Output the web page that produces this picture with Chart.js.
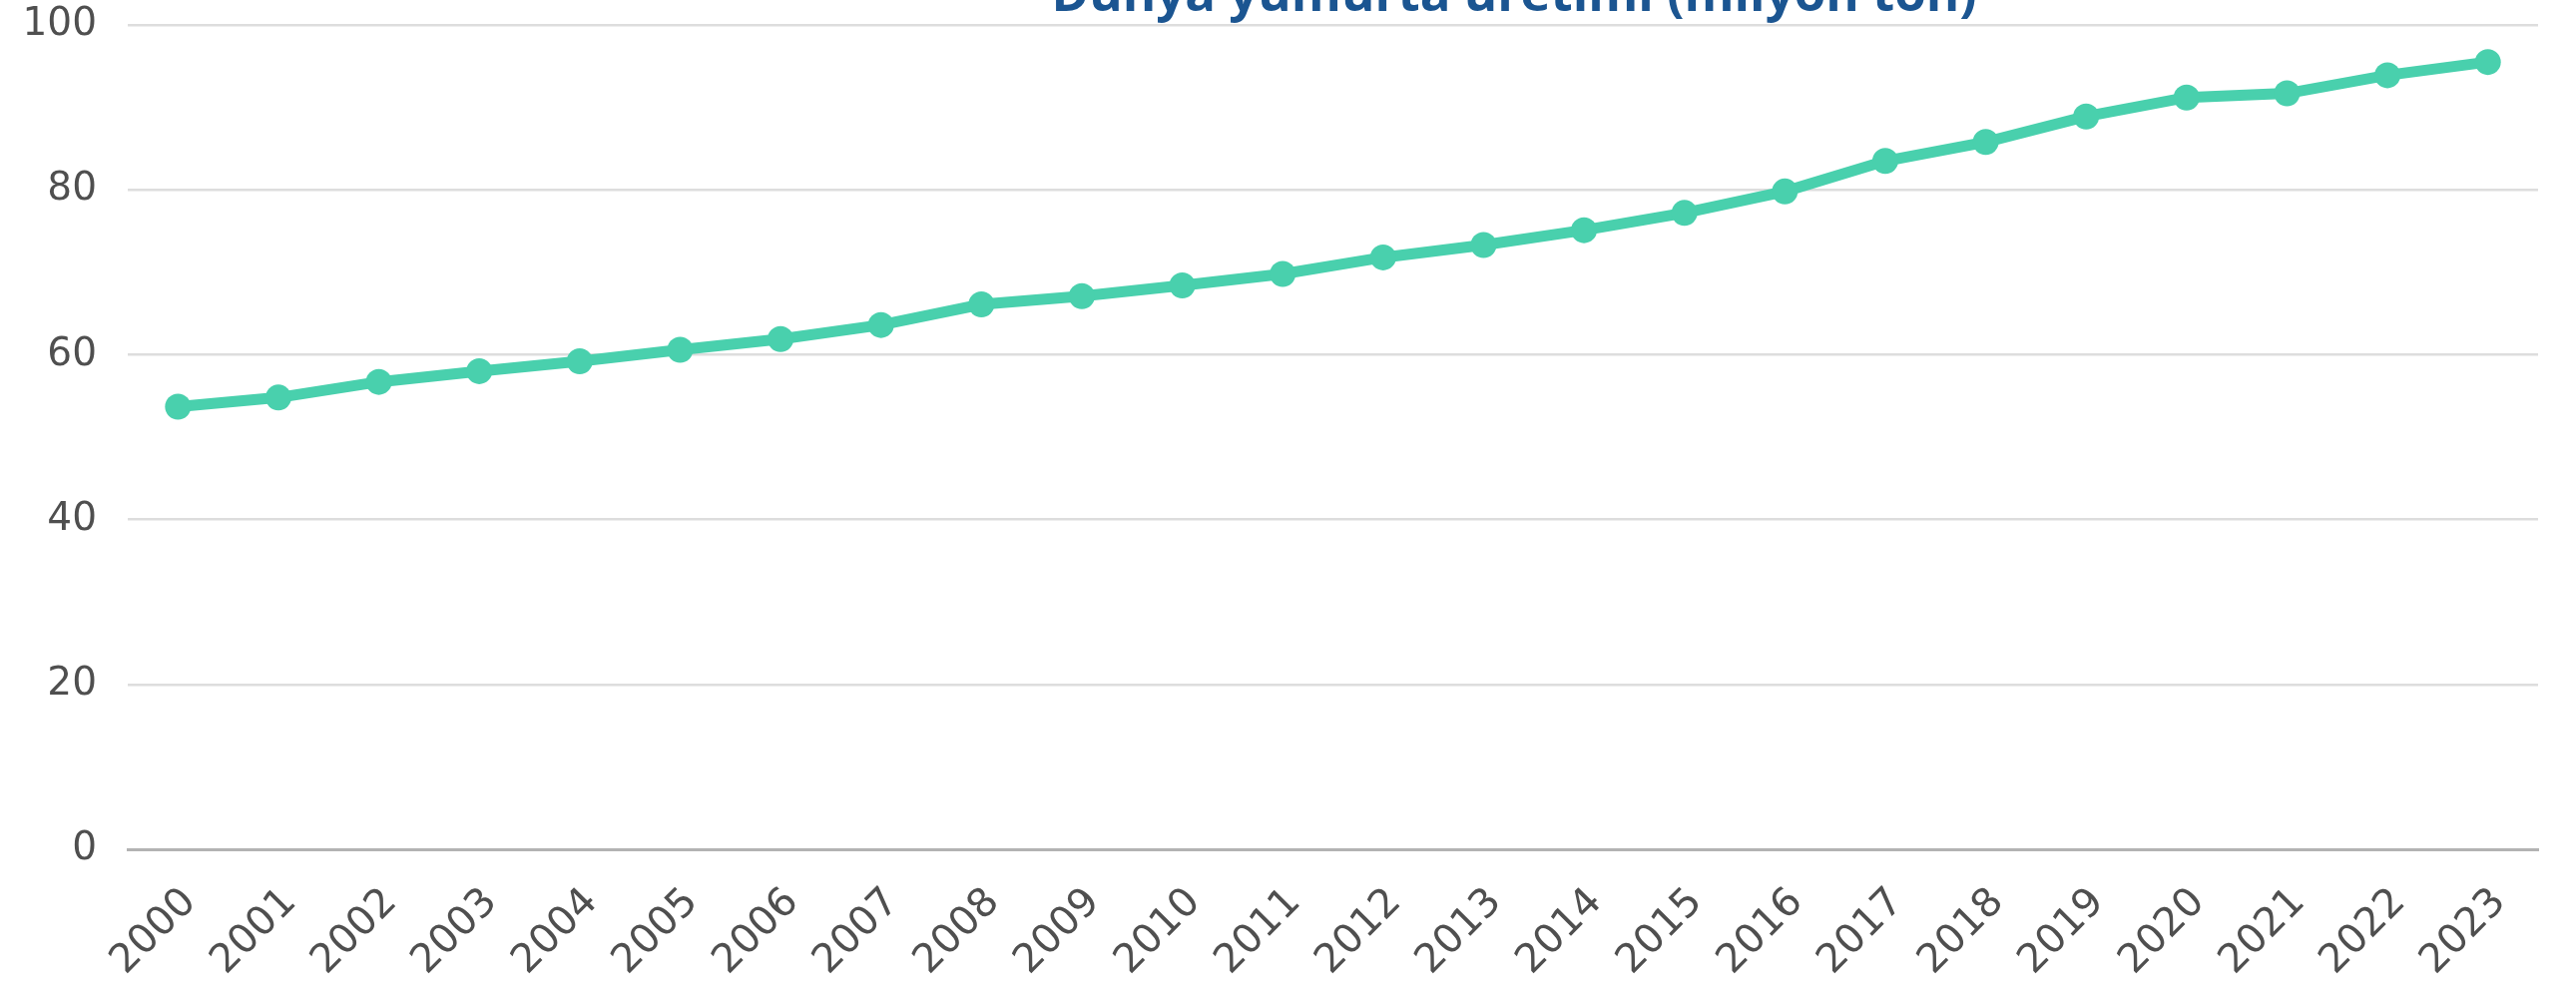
<!DOCTYPE html>
<html>
<head>
<meta charset="utf-8">
<script src="https://cdn.jsdelivr.net/npm/chart.js@4"></script>
<style>
html,body{margin:0;padding:0;background:#ffffff;overflow:hidden}
#wrap{width:2581px;height:992px;position:relative}
</style>
</head>
<body>
<div id="wrap"><canvas id="c"></canvas></div>
<script>
const years = ['2000','2001','2002','2003','2004','2005','2006','2007','2008','2009','2010','2011','2012','2013','2014','2015','2016','2017','2018','2019','2020','2021','2022','2023'];
const production = [53.7,54.8,56.7,58.0,59.2,60.6,61.9,63.6,66.1,67.1,68.4,69.8,71.8,73.3,75.1,77.2,79.8,83.5,85.8,88.9,91.2,91.7,93.9,95.5];
const yTickValues = [0,20,40,60,80,100];
const titleText = 'Dünya yumurta üretimi (milyon ton)';

const lineColor = '#49D0AD';
const yTickFont = {family: '"DejaVu Sans", sans-serif', size: 39};
const xTickFont = {family: '"DejaVu Sans", sans-serif', size: 40};
const tickColor = '#4f4f4f';

const titlePlugin = {
  id: 'offsetTitle',
  afterDraw(chart, args, opts) {
    const ctx = chart.ctx;
    ctx.save();
    ctx.font = 'bold 51px "Open Sans", sans-serif';
    ctx.fillStyle = '#1B5591';
    ctx.textAlign = 'center';
    ctx.textBaseline = 'alphabetic';
    ctx.fillText(titleText, opts.x, opts.y);
    ctx.restore();
  }
};

new Chart(document.getElementById('c'), {
  type: 'line',
  data: {
    labels: years,
    datasets: [{
      label: titleText,
      data: production,
      borderColor: lineColor,
      backgroundColor: lineColor,
      borderWidth: 11,
      pointRadius: 13,
      pointBackgroundColor: lineColor,
      pointBorderWidth: 0,
      tension: 0,
      fill: false
    }]
  },
  plugins: [titlePlugin],
  options: {
    responsive: true,
    maintainAspectRatio: false,
    animation: false,
    devicePixelRatio: 1,
    layout: {padding: {top: 25, right: 38, left: 0, bottom: 0}, autoPadding: false},
    plugins: {
      legend: {display: false},
      title: {display: false},
      tooltip: {enabled: false},
      offsetTitle: {x: 1517, y: 11}
    },
    scales: {
      x: {
        type: 'category',
        offset: true,
        grid: {display: false, drawTicks: false},
        border: {display: true, color: '#b3b3b3', width: 3},
        ticks: {
          autoSkip: false,
          minRotation: 45,
          maxRotation: 45,
          padding: 30,
          labelOffset: 12,
          font: xTickFont,
          color: tickColor
        },
        afterFit(s) { s.height = 141; s.paddingLeft = 0; s.paddingRight = 0; }
      },
      y: {
        min: 0,
        max: 100,
        afterBuildTicks(s) { s.ticks = yTickValues.map(v => ({value: v})); },
        grid: {
          drawTicks: false,
          lineWidth: 2.5,
          color: ctx => (ctx.tick && ctx.tick.value === 0) ? '#b3b3b3' : '#dddddd'
        },
        border: {display: false},
        ticks: {
          padding: 31,
          font: yTickFont,
          color: tickColor
        },
        afterFit(s) { s.width = 128; s.paddingTop = 0; s.paddingBottom = 0; }
      }
    }
  }
});
</script>
</body>
</html>
